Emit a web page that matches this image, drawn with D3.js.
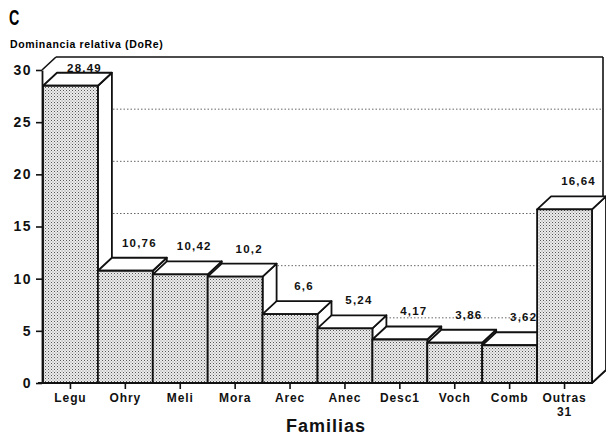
<!DOCTYPE html>
<html><head><meta charset="utf-8">
<script src="https://cdn.jsdelivr.net/npm/d3@7"></script>
<style>
html,body{margin:0;padding:0;background:#fff;}
svg{display:block;font-family:"Liberation Sans",Arial,sans-serif;}
</style></head>
<body><svg id="c" width="606" height="439"></svg>
<script>
const categories = ["Legu","Ohry","Meli","Mora","Arec","Anec","Desc1","Voch","Comb","Outras\n31"];
const values = [28.49,10.76,10.42,10.2,6.6,5.24,4.17,3.86,3.62,16.64];
const valueLabels = ["28.49","10,76","10,42","10,2","6,6","5,24","4,17","3,86","3,62","16,64"];
const yTicks = [0,5,10,15,20,25,30];
const gridTicks = [5,10,15,20,25];

const svg = d3.select("#c");
const DX = 14, DY = 13;
const x = d3.scaleBand().domain(categories).range([43, 592]).padding(0);
const y = d3.scaleLinear().domain([0,30]).range([383,70]);

// pattern
const defs = svg.append("defs");
const pat = defs.append("pattern").attr("id","dots").attr("width",3).attr("height",3).attr("patternUnits","userSpaceOnUse");
pat.append("rect").attr("width",3).attr("height",3).attr("fill","#ececec");
pat.append("rect").attr("x",0).attr("y",0).attr("width",1).attr("height",1).attr("fill","#555");
pat.append("rect").attr("x",1.5).attr("y",1.5).attr("width",1).attr("height",1).attr("fill","#888");

// titles
svg.append("text").attr("x",9).attr("y",25).attr("font-size",22).attr("font-weight","bold")
  .attr("transform","translate(9,25) scale(0.65,1) translate(-9,-25)").text("C");
svg.append("text").attr("x",10).attr("y",48).attr("font-size",10.5).attr("font-weight","bold")
  .attr("letter-spacing",0.65).text("Dominancia relativa (DoRe)");

const x0 = x.range()[0], x1 = x.range()[1];
const wallRight = 603;
// gridlines on back wall
svg.append("g").selectAll("line").data(gridTicks).join("line")
  .attr("x1", x0 + DX).attr("x2", wallRight)
  .attr("y1", d => y(d) - DY).attr("y2", d => y(d) - DY)
  .attr("stroke","#666").attr("stroke-width",1).attr("stroke-dasharray","1.5,2");

// wall frame
const frame = svg.append("g").attr("stroke","#111").attr("stroke-width",1.6).attr("fill","none");
frame.append("line").attr("x1",x0 - 1).attr("y1",y(30)).attr("x2",x0 - 1 + DX).attr("y2",y(30) - DY);
frame.append("line").attr("x1",x0 - 1 + DX).attr("y1",y(30) - DY).attr("x2",wallRight).attr("y2",y(30) - DY);
frame.append("line").attr("x1",wallRight).attr("y1",y(30) - DY).attr("x2",wallRight).attr("y2",y(0) - DY);
frame.append("line").attr("x1",x1).attr("y1",y(0)).attr("x2",x1 + DX).attr("y2",y(0) - DY);

// bars
const data = categories.map((c,i) => ({c, v: values[i], lab: valueLabels[i]}));
const bars = svg.append("g");
data.forEach(d => {
  const xl = x(d.c), xr = x(d.c) + x.bandwidth(), yt = y(d.v), yb = y(0);
  const g = bars.append("g").attr("stroke","#111").attr("stroke-width",1.8).attr("stroke-linejoin","round");
  g.append("path").attr("fill","#fff")
    .attr("d", `M${xr},${yt}L${xr+DX},${yt-DY}L${xr+DX},${yb-DY}L${xr},${yb}Z`);
  g.append("path").attr("fill","#fff")
    .attr("d", `M${xl},${yt}L${xl+DX},${yt-DY}L${xr+DX},${yt-DY}L${xr},${yt}Z`);
  g.append("rect").attr("x",xl).attr("y",yt).attr("width",xr-xl).attr("height",yb-yt).attr("fill","url(#dots)");
});

// value labels
svg.append("g").selectAll("text").data(data).join("text")
  .attr("x", d => x(d.c) + x.bandwidth()/2 + DX)
  .attr("y", d => Math.max(y(d.v) - DY - 11, 72))
  .attr("text-anchor","middle").attr("font-size",11.5).attr("font-weight","bold")
  .attr("letter-spacing",1.2).attr("fill","#111").text(d => d.lab);

// y axis
const ya = svg.append("g").attr("transform",`translate(${x0 - 1},0)`)
  .call(d3.axisLeft(y).tickValues(yTicks).tickSize(6).tickSizeOuter(0).tickPadding(4));
ya.select(".domain").attr("stroke","#111").attr("stroke-width",1.8);
ya.selectAll(".tick line").attr("stroke","#111").attr("stroke-width",1.6);
ya.selectAll(".tick text").attr("font-size",14).attr("font-weight","bold").attr("fill","#111")
  .attr("letter-spacing",1.5).attr("font-family","Liberation Sans, Arial, sans-serif");

// x axis
const xa = svg.append("g").attr("transform",`translate(0,${y(0)})`)
  .call(d3.axisBottom(x).tickSize(6).tickSizeOuter(0).tickFormat(""));
xa.select(".domain").attr("stroke","#111").attr("stroke-width",1.8).attr("d",`M${x0-5},0H${x1}`);
xa.selectAll(".tick line").attr("stroke","#111").attr("stroke-width",1.6);
xa.selectAll(".tick").each(function(d){
  const parts = d.split("\n");
  const t = d3.select(this).append("text").attr("fill","#111").attr("font-size",12).attr("font-weight","bold")
    .attr("letter-spacing",0.9).attr("text-anchor","middle").attr("font-family","Liberation Sans, Arial, sans-serif");
  parts.forEach((p,i) => t.append("tspan").attr("x",0).attr("y",19 + i*14).text(p));
});

svg.append("text").attr("x",326).attr("y",432).attr("text-anchor","middle").attr("font-size",18)
  .attr("font-weight","bold").attr("letter-spacing",1).attr("fill","#111").text("Familias");
</script></body></html>
